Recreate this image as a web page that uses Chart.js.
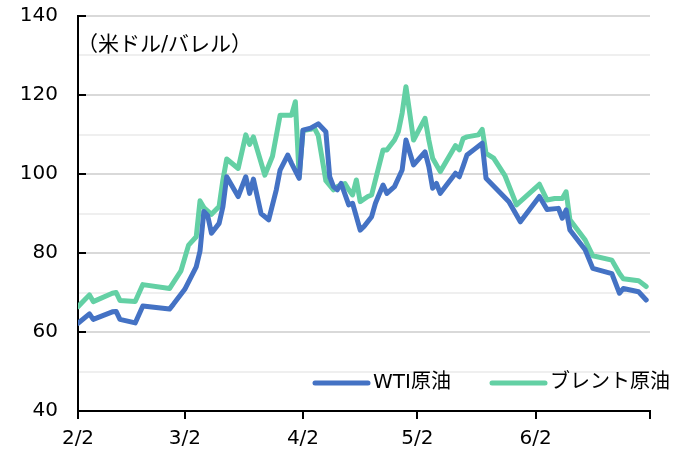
<!DOCTYPE html>
<html>
<head>
<meta charset="utf-8">
<script src="https://cdn.jsdelivr.net/npm/chart.js@4/dist/chart.umd.min.js"></script>
<style>
  html, body { margin: 0; padding: 0; background: #fff; }
  #wrap { width: 680px; height: 460px; }
</style>
</head>
<body>
<div id="wrap"><canvas id="oilChart"></canvas></div>
<script>
/* --------------------------------------------
   Data (x = days since 2/2)
-------------------------------------------- */
const xTickDays = [0, 28, 59, 89, 120, 150];
const xTickLabels = ["2/2", "3/2", "4/2", "5/2", "6/2", ""];
const yMajorTicks = [40, 60, 80, 100, 120, 140];

const seriesLabels = ["WTI原油", "ブレント原油"];
const unitLabel = "（米ドル/バレル）";

const wtiDays = [
  0, 3, 4, 9, 10, 11, 15, 17, 24, 25, 28, 31, 32, 33, 34, 35, 37, 38, 39, 42,
  44, 45, 46, 48, 50, 52, 53, 55, 56, 58, 59, 61, 63, 65, 66, 67, 68, 69, 71, 72,
  74, 75, 77, 78, 80, 81, 83, 85, 86, 88, 91, 92, 93, 94, 95, 99, 100, 101, 102, 104,
  106, 107, 113, 116, 121, 123, 126, 127, 128, 129, 133, 135, 140, 142, 143, 147, 149,
];
const wtiPrices = [
  62.2, 64.6, 63.2, 65.1, 65.2, 63.2, 62.3, 66.6, 65.8, 67.0, 70.8, 76.5, 80.5, 90.5, 89.5, 85.0, 87.5, 91.7, 99.3, 94.3,
  99.3, 95.1, 98.7, 90.0, 88.4, 96.0, 101.0, 104.8, 102.7, 98.9, 111.1, 111.6, 112.7, 110.7, 99.3, 96.8, 96.0, 97.6, 92.2, 92.6,
  85.8, 86.7, 89.2, 92.6, 97.2, 95.1, 96.8, 101.0, 108.6, 102.3, 105.6, 101.9, 96.4, 97.6, 95.1, 100.2, 99.3, 102.0, 104.8, 106.3,
  107.8, 98.9, 93.0, 87.9, 94.3, 91.0, 91.3, 88.8, 90.9, 85.8, 80.8, 76.1, 74.8, 69.8, 71.0, 70.2, 68.1,
];

const brentDays = [
  0, 3, 4, 9, 10, 11, 15, 17, 24, 25, 27, 29, 31, 32, 33, 35, 37, 38, 39, 42,
  44, 45, 46, 49, 51, 53, 56, 57, 58, 59, 61, 62, 63, 65, 67, 68, 70, 71, 72, 73,
  74, 76, 77, 80, 81, 83, 84, 85, 86, 88, 91, 92, 93, 95, 99, 100, 101, 102, 105, 106,
  107, 109, 112, 115, 121, 123, 125, 127, 128, 129, 133, 135, 140, 142, 143, 147, 149,
];
const brentPrices = [
  66.4, 69.4, 67.7, 69.8, 70.0, 68.0, 67.7, 72.0, 71.0, 72.5, 75.5, 82.0, 84.1, 93.2, 91.5, 89.8, 91.8, 98.5, 103.8, 101.4,
  109.9, 107.5, 109.4, 99.7, 104.5, 114.9, 114.9, 118.3, 99.3, 111.0, 111.3, 111.6, 109.7, 98.3, 96.0, 96.8, 97.6, 96.0, 94.7, 98.5,
  93.0, 94.3, 94.7, 106.1, 106.1, 108.6, 110.7, 115.4, 122.1, 108.6, 114.1, 108.6, 104.0, 100.6, 107.2, 106.1, 109.0, 109.4, 109.9, 111.3,
  105.2, 104.0, 99.5, 92.2, 97.4, 93.4, 93.8, 93.8, 95.5, 88.4, 83.3, 79.3, 78.2, 74.8, 73.5, 73.0, 71.5,
];

/* --------------------------------------------
   Utils
-------------------------------------------- */
const FONT = '"DejaVu Sans", "Noto Sans CJK JP", sans-serif';
const toPoints = (days, values) => days.map((d, i) => ({ x: d, y: values[i] }));

Chart.defaults.font.family = FONT;
Chart.defaults.font.size = 20;
Chart.defaults.color = "#000";

/* --------------------------------------------
   Extras: inner y ticks, unit label, legend
-------------------------------------------- */
const extrasPlugin = {
  id: "extras",
  afterDraw(chart) {
    const { ctx, chartArea, scales } = chart;
    ctx.save();

    // short tick marks on the inside of the y axis
    ctx.strokeStyle = "#000";
    ctx.lineWidth = 2;
    yMajorTicks.forEach((v) => {
      const y = Math.round(scales.y.getPixelForValue(v));
      ctx.beginPath();
      ctx.moveTo(chartArea.left, y);
      ctx.lineTo(chartArea.left + 8, y);
      ctx.stroke();
    });

    // unit label
    ctx.fillStyle = "#000";
    ctx.font = `21px ${FONT}`;
    ctx.textBaseline = "middle";
    ctx.textAlign = "left";
    ctx.fillText(unitLabel, chartArea.left - 1, chartArea.top + 30);

    // legend, bottom right inside the plot
    ctx.font = `20px ${FONT}`;
    const legendY = 383;
    const items = [
      { x: 315, ds: chart.data.datasets[0] },
      { x: 492, ds: chart.data.datasets[1] },
    ];
    items.forEach(({ x, ds }) => {
      ctx.strokeStyle = ds.borderColor;
      ctx.lineWidth = 5;
      ctx.lineCap = "round";
      ctx.beginPath();
      ctx.moveTo(x, legendY);
      ctx.lineTo(x + 53, legendY);
      ctx.stroke();
      ctx.fillText(ds.label, x + 58, legendY);
    });

    ctx.restore();
  },
};

/* --------------------------------------------
   Chart
-------------------------------------------- */
new Chart(document.getElementById("oilChart"), {
  type: "line",
  data: {
    datasets: [
      {
        label: seriesLabels[0],
        data: toPoints(wtiDays, wtiPrices),
        borderColor: "#4472c4",
        borderWidth: 5,
        pointRadius: 0,
        tension: 0,
        borderJoinStyle: "round",
        borderCapStyle: "round",
      },
      {
        label: seriesLabels[1],
        data: toPoints(brentDays, brentPrices),
        borderColor: "#63d0a4",
        borderWidth: 5,
        pointRadius: 0,
        tension: 0,
        borderJoinStyle: "round",
        borderCapStyle: "round",
      },
    ],
  },
  options: {
    responsive: true,
    maintainAspectRatio: false,
    animation: false,
    layout: { padding: { top: 0, right: 30, left: 0, bottom: 0 } },
    plugins: {
      legend: { display: false },
      tooltip: { enabled: false },
    },
    scales: {
      x: {
        type: "linear",
        min: 0,
        max: 150,
        afterBuildTicks: (axis) => {
          axis.ticks = xTickDays.map((v) => ({ value: v }));
        },
        afterFit: (scale) => {
          scale.height = 49;
        },
        ticks: {
          autoSkip: false,
          maxRotation: 0,
          padding: 8,
          callback: (value, index) => xTickLabels[index],
        },
        grid: {
          drawOnChartArea: false,
          drawTicks: true,
          tickLength: 8,
          color: "#000",
          lineWidth: 2,
        },
        border: { display: true, color: "#000", width: 2 },
      },
      y: {
        min: 40,
        max: 140,
        afterFit: (scale) => {
          scale.width = 78;
          scale.paddingTop = 16;
          scale.paddingBottom = 0;
        },
        ticks: {
          stepSize: 10,
          autoSkip: false,
          padding: 20,
          callback: (v) => (v % 20 === 0 ? v : ""),
        },
        grid: {
          drawTicks: false,
          lineWidth: 2,
          color: (ctx) => {
            const v = ctx.tick.value;
            if (v === 40) return "rgba(0,0,0,0)";
            return v % 20 === 0 ? "#d9d9d9" : "#efefef";
          },
        },
        border: { display: true, color: "#000", width: 2 },
      },
    },
  },
  plugins: [extrasPlugin],
});
</script>
</body>
</html>
